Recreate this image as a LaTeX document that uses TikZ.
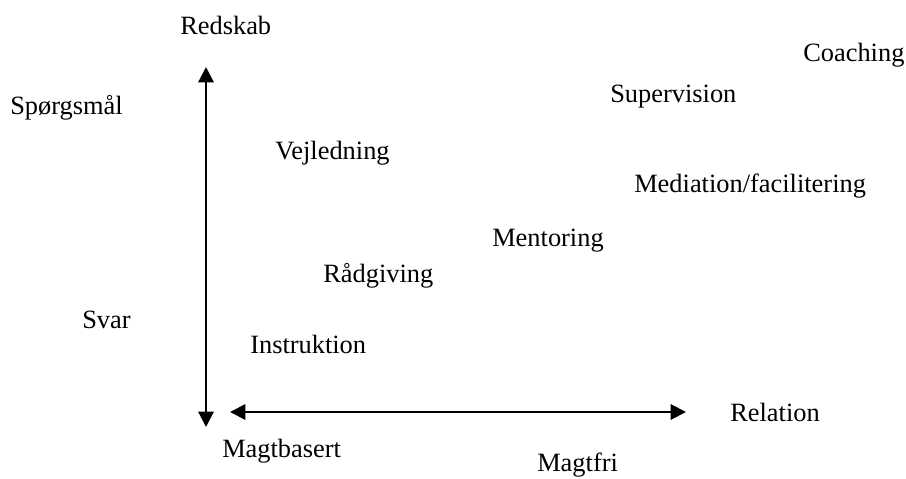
\documentclass[tikz,border=0pt]{standalone}
\usepackage{fontspec}
\setmainfont{Liberation Serif}
\usetikzlibrary{arrows.meta}

\tikzset{
  lbl/.style={anchor=base west, inner sep=0pt, font=\fontsize{19.8}{24}\selectfont},
  axis/.style={line width=1.5pt, {Triangle[length=11.5pt,width=11.5pt]}-{Triangle[length=11.5pt,width=11.5pt]}}
}

\begin{document}
\begin{tikzpicture}[x=0.75pt, y=-0.75pt]

	\useasboundingbox (0,0) rectangle (906,478);

	\coordinate (top)   at (206, 67);
	\coordinate (bot)   at (206, 427);
	\coordinate (left)  at (230, 412);
	\coordinate (right) at (686, 412);
	\draw[axis] (top) -- (bot);
	\draw[axis] (left) -- (right);

	\node[lbl] (redskab)    at (180, 35)  {Redskab};
	\node[lbl] (spoergsmaal) at (10, 114) {Spørgsmål};
	\node[lbl] (svar)       at (82, 328)  {Svar};
	\node[lbl] (relation)   at (730, 421) {Relation};
	\node[lbl] (magtbasert) at (222, 457) {Magtbasert};
	\node[lbl] (magtfri)    at (537, 471) {Magtfri};

	\node[lbl] (coaching)   at (803, 62)  {Coaching};
	\node[lbl] (supervision) at (610, 103) {Supervision};
	\node[lbl] (vejledning) at (275, 159) {Vejledning};
	\node[lbl] (mediation)  at (634, 192) {Mediation/facilitering};
	\node[lbl] (mentoring)  at (492, 246) {Mentoring};
	\node[lbl] (raadgiving) at (323, 282) {Rådgiving};
	\node[lbl] (instruktion) at (250, 353) {Instruktion};

\end{tikzpicture}
\end{document}
